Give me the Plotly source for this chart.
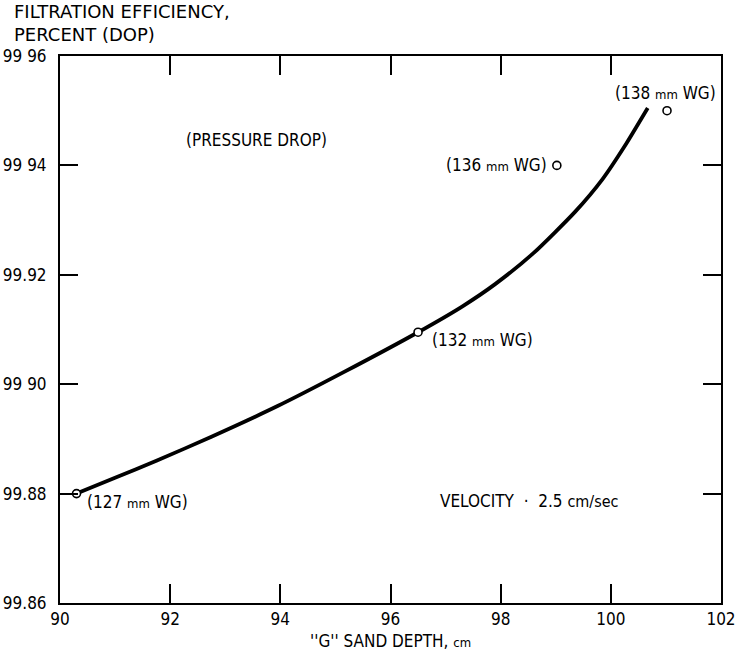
import plotly.graph_objects as go

# Measured points (sand depth in cm, efficiency in percent DOP)
point_depth = [90.3, 96.5, 99.02, 101.02]
point_eff = [99.880, 99.9095, 99.940, 99.950]
point_labels = ["(127 mm WG)", "(132 mm WG)", "(136 mm WG)", "(138 mm WG)"]

# Fitted curve through the data
curve_depth = [90.3, 91.0, 91.75, 92.75, 93.95, 95.15, 96.5, 97.3, 97.9,
               98.6, 99.35, 99.85, 100.25, 100.67]
curve_eff = [99.8800, 99.8829, 99.8860, 99.8904, 99.8960, 99.9022, 99.9095,
             99.9142, 99.9183, 99.9240, 99.9315, 99.9375, 99.9435, 99.9505]

x_ticks = [90, 92, 94, 96, 98, 100, 102]
y_ticks = [99.86, 99.88, 99.90, 99.92, 99.94, 99.96]
y_tick_text = ["99.86", "99.88", "99 90", "99.92", "99 94", "99 96"]

FONT = "DejaVu Sans Condensed, Liberation Sans Narrow, sans-serif"
WIDE_FONT = "DejaVu Sans, sans-serif"
SIZE = 17
SMALL = 13

fig = go.Figure()
fig.add_trace(go.Scatter(
    x=curve_depth, y=curve_eff, mode="lines",
    line=dict(color="black", width=3.8, shape="spline", smoothing=0.6),
    hoverinfo="skip", showlegend=False))
fig.add_trace(go.Scatter(
    x=point_depth, y=point_eff, mode="markers",
    marker=dict(symbol="circle", size=8, color="white",
                line=dict(color="black", width=1.6)),
    showlegend=False))

# point labels: (text, x, y, xanchor)
label_pos = [
    (point_labels[0], 90.45, 99.8785, "left"),
    (point_labels[1], 96.72, 99.908, "left"),
    (point_labels[2], 98.88, 99.940, "right"),
    (point_labels[3], 101.0, 99.9532, "center"),
]
for txt, lx, ly, anc in label_pos:
    t = txt.replace("mm", f"<span style='font-size:{SMALL}px'>mm</span>")
    fig.add_annotation(x=lx, y=ly, text=t, showarrow=False, xanchor=anc,
                       yanchor="middle", font=dict(size=SIZE, color="black", family=FONT))

fig.add_annotation(x=93.56, y=99.9446, text="(PRESSURE DROP)", showarrow=False,
                   xanchor="center", yanchor="middle",
                   font=dict(size=SIZE, color="black", family=FONT))
fig.add_annotation(x=96.87, y=99.8786,
                   text=f"VELOCITY  ·  2.5 <span style='font-size:{SIZE - 1}px'>cm/sec</span>",
                   showarrow=False, xanchor="left", yanchor="middle",
                   font=dict(size=SIZE, color="black", family=FONT))

# y-axis title, top-left above the frame
fig.add_annotation(xref="paper", yref="paper", x=-0.072, y=1.104,
                   text="FILTRATION EFFICIENCY,<br>PERCENT (DOP)",
                   showarrow=False, xanchor="left", yanchor="top", align="left",
                   font=dict(size=18, color="black", family=WIDE_FONT))

# x-axis title
fig.add_annotation(xref="paper", yref="paper", x=0.5, y=-0.069,
                   text=f"''G'' SAND DEPTH, <span style='font-size:{SMALL}px'>cm</span>",
                   showarrow=False, xanchor="center", yanchor="middle",
                   font=dict(size=SIZE, color="black", family=FONT))

fig.update_xaxes(
    range=[90, 102], tickvals=x_ticks, ticktext=[str(v) for v in x_ticks],
    ticks="inside", ticklen=19, tickwidth=1.5, tickcolor="black",
    showline=True, linecolor="black", linewidth=2, mirror="ticks",
    showgrid=False, zeroline=False, automargin=False,
    ticklabeloverflow="allow",
    tickfont=dict(size=SIZE, color="black", family=FONT))
fig.update_yaxes(
    range=[99.86, 99.96], tickvals=y_ticks, ticktext=y_tick_text,
    ticks="inside", ticklen=18, tickwidth=1.5, tickcolor="black",
    showline=True, linecolor="black", linewidth=2, mirror="ticks",
    showgrid=False, zeroline=False, automargin=False, ticklabelstandoff=8,
    ticklabeloverflow="allow",
    tickfont=dict(size=SIZE, color="black", family=FONT))

fig.update_layout(
    width=739, height=653,
    margin=dict(l=60, r=18, t=56, b=50),
    paper_bgcolor="white", plot_bgcolor="white",
    font=dict(family=FONT, color="black"),
)

fig.write_html("out.html")
